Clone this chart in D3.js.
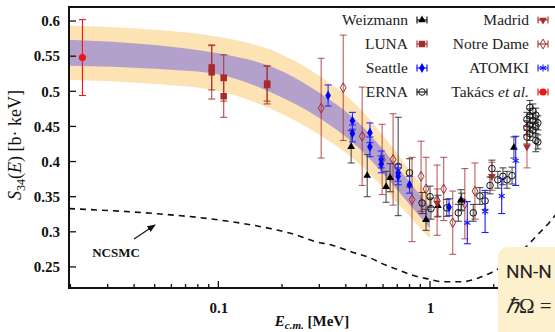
<!DOCTYPE html>
<html>
<head>
<meta charset="utf-8">
<script src="https://cdn.jsdelivr.net/npm/d3@7"></script>
<style>
    body { margin: 0; background: #fff; }
    svg { display: block; }
</style>
</head>
<body>
<svg id="chart" width="555" height="332"></svg>
<script>
// band (theory uncertainty), edges
const bandE       = [0.0197, 0.05, 0.1, 0.18, 0.3, 0.45, 0.6, 0.8, 1.0];
const bandOuterHi = [0.5935, 0.5875, 0.5775, 0.558, 0.522, 0.48, 0.437, 0.388, 0.35];
const bandInnerHi = [0.5735, 0.566, 0.554, 0.5345, 0.498, 0.458, 0.417, 0.371, 0.335];
const bandInnerLo = [0.5365, 0.532, 0.524, 0.4975, 0.462, 0.422, 0.383, 0.339, 0.305];
const bandOuterLo = [0.5165, 0.5105, 0.5005, 0.474, 0.438, 0.40, 0.363, 0.322, 0.29];

// NCSMC curve
const ncsmcE = [0.0197, 0.05, 0.1, 0.186, 0.231, 0.287, 0.345, 0.429, 0.51, 0.613, 0.707, 0.85, 0.978, 1.14, 1.42, 1.68, 1.92, 2.4, 2.96, 3.3, 3.68, 4.5];
const ncsmcS = [0.333, 0.326, 0.317, 0.303, 0.296, 0.286, 0.281, 0.271, 0.264, 0.253, 0.246, 0.237, 0.233, 0.229, 0.229, 0.234, 0.241, 0.259, 0.284, 0.299, 0.314, 0.35];

// experiments: [E (MeV), S (b keV), error]
const weizmann = [[0.424, 0.421, 0.023], [0.505, 0.380, 0.030], [0.62, 0.364, 0.022], [0.648, 0.377, 0.020],
    [0.957, 0.317, 0.015], [1.09, 0.337, 0.015], [1.40, 0.345, 0.015], [2.49, 0.420, 0.015]];
const luna = [[0.093, 0.534, 0.032], [0.093, 0.527, 0.038], [0.106, 0.519, 0.033], [0.106, 0.493, 0.030],
    [0.170, 0.509, 0.027], [0.170, 0.511, 0.025]];
const seattle = [[0.33, 0.494, 0.015], [0.43, 0.458, 0.012], [0.43, 0.440, 0.012], [0.52, 0.441, 0.014],
    [0.52, 0.421, 0.014], [0.588, 0.403, 0.012], [0.588, 0.396, 0.012], [0.707, 0.384, 0.012],
    [0.707, 0.379, 0.012], [0.80, 0.367, 0.012], [1.23, 0.335, 0.012]];
const erna = [[0.707, 0.393, 0.070], [0.80, 0.384, 0.020], [0.917, 0.341, 0.015], [1.0, 0.350, 0.015],
    [1.01, 0.333, 0.015], [1.20, 0.334, 0.012], [1.36, 0.327, 0.012], [1.41, 0.343, 0.012],
    [1.60, 0.327, 0.012], [1.72, 0.351, 0.012], [1.82, 0.344, 0.012], [1.92, 0.366, 0.012],
    [1.96, 0.390, 0.012], [2.09, 0.374, 0.012], [2.21, 0.379, 0.012], [2.31, 0.374, 0.012],
    [2.44, 0.380, 0.012], [2.87, 0.460, 0.010], [2.87, 0.448, 0.010], [2.87, 0.435, 0.010],
    [2.96, 0.477, 0.010], [2.96, 0.465, 0.010], [2.96, 0.452, 0.010], [2.96, 0.440, 0.010],
    [3.06, 0.472, 0.010], [3.06, 0.458, 0.010], [3.06, 0.445, 0.010], [3.16, 0.466, 0.010],
    [3.16, 0.450, 0.010], [3.16, 0.430, 0.016], [3.23, 0.455, 0.010], [3.23, 0.428, 0.010]];
const madrid = [[1.08, 0.341, 0.020], [1.96, 0.379, 0.020], [2.87, 0.421, 0.030]];
const notreDame = [[0.306, 0.476, 0.071], [0.389, 0.505, 0.075], [0.478, 0.436, 0.070], [0.594, 0.403, 0.050],
    [0.669, 0.403, 0.065], [0.822, 0.346, 0.060], [0.907, 0.379, 0.050], [0.957, 0.361, 0.045],
    [1.08, 0.345, 0.050], [1.16, 0.361, 0.045], [1.28, 0.313, 0.045], [1.46, 0.340, 0.050],
    [1.63, 0.358, 0.040]];
const atomki = [[1.50, 0.313, 0.030], [1.82, 0.329, 0.030], [2.18, 0.351, 0.025], [2.54, 0.401, 0.035]];
const takacs = [[0.0228, 0.548, 0.054]];

const xTickValues = [0.1, 1];
const yTickValues = [0.25, 0.3, 0.35, 0.4, 0.45, 0.5, 0.55, 0.6];

const darkRed = '#a82a2a';
const serif = '"Liberation Serif", "Times New Roman", serif';

const margin = { top: 7, left: 69, bottom: 288, right: 578 };

const svg = d3.select('#chart');
svg.append('rect').attr('width', 555).attr('height', 332).attr('fill', '#fff');

const x = d3.scaleLog().domain([0.0197, 5]).range([margin.left, margin.right]);
const y = d3.scaleLinear().domain([0.22, 0.62]).range([margin.bottom, margin.top]);

const defs = svg.append('defs');
defs.append('clipPath').attr('id', 'clip')
    .append('rect')
    .attr('x', margin.left).attr('y', margin.top)
    .attr('width', margin.right - margin.left).attr('height', margin.bottom - margin.top);

const gPlot = svg.append('g').attr('clip-path', 'url(#clip)');

// bands
const bandIdx = d3.range(bandE.length);
const outerArea = d3.area()
    .x(i => x(bandE[i]))
    .y0(i => y(bandOuterLo[i]))
    .y1(i => y(bandOuterHi[i]))
    .curve(d3.curveMonotoneX);
const innerArea = d3.area()
    .x(i => x(bandE[i]))
    .y0(i => y(bandInnerLo[i]))
    .y1(i => y(bandInnerHi[i]))
    .curve(d3.curveMonotoneX);

gPlot.append('path').datum(bandIdx).attr('d', outerArea).attr('fill', '#fde3b3');
gPlot.append('path').datum(bandIdx).attr('d', innerArea).attr('fill', '#b3a0cb');

// NCSMC dashed line
gPlot.append('path').datum(d3.range(ncsmcE.length))
    .attr('d', d3.line().x(i => x(ncsmcE[i])).y(i => y(ncsmcS[i])).curve(d3.curveMonotoneX))
    .attr('fill', 'none')
    .attr('stroke', '#111')
    .attr('stroke-width', 1.6)
    .attr('stroke-dasharray', '6,5');

// marker shapes
const symTri = d3.symbol().type(d3.symbolTriangle).size(26)();
const symSq = d3.symbol().type(d3.symbolSquare).size(42)();
const symDia = d3.symbol().type(d3.symbolDiamond).size(28)();
const symDot = d3.symbol().type(d3.symbolCircle).size(40)();

function drawMarker(g, kind, color) {
    if (kind === 'triUp') {
        g.append('path').attr('d', symTri).attr('fill', color);
    } else if (kind === 'triDown') {
        g.append('path').attr('d', symTri).attr('transform', 'rotate(180)').attr('fill', color);
    } else if (kind === 'square') {
        g.append('path').attr('d', symSq).attr('fill', color);
    } else if (kind === 'diamond') {
        g.append('path').attr('d', symDia).attr('fill', color);
    } else if (kind === 'openDiamond') {
        g.append('path').attr('d', symDia).attr('fill', 'none').attr('stroke', color).attr('stroke-width', 1);
    } else if (kind === 'openCircle') {
        g.append('circle').attr('r', 3.3).attr('fill', 'none').attr('stroke', color).attr('stroke-width', 1);
    } else if (kind === 'dot') {
        g.append('path').attr('d', symDot).attr('fill', color);
    } else if (kind === 'asterisk') {
        [90, 30, 150].forEach(a => {
            const r = 3.5, t = a * Math.PI / 180;
            g.append('line')
                .attr('x1', -r * Math.cos(t)).attr('y1', -r * Math.sin(t))
                .attr('x2', r * Math.cos(t)).attr('y2', r * Math.sin(t))
                .attr('stroke', color).attr('stroke-width', 1.2);
        });
    }
}

function drawSeries(data, kind, color, barColor, barOpacity) {
    const gs = gPlot.append('g');
    data.forEach(d => {
        const cx = x(d[0]);
        const yTop = y(d[1] + d[2]);
        const yBot = y(d[1] - d[2]);
        const gb = gs.append('g').attr('stroke', barColor).attr('stroke-opacity', barOpacity).attr('stroke-width', 1.1);
        gb.append('line').attr('x1', cx).attr('x2', cx).attr('y1', yTop).attr('y2', yBot);
        gb.append('line').attr('x1', cx - 3.5).attr('x2', cx + 3.5).attr('y1', yTop).attr('y2', yTop);
        gb.append('line').attr('x1', cx - 3.5).attr('x2', cx + 3.5).attr('y1', yBot).attr('y2', yBot);
        const gm = gs.append('g').attr('transform', `translate(${cx},${y(d[1])})`);
        drawMarker(gm, kind, color);
    });
}

drawSeries(notreDame, 'openDiamond', darkRed, darkRed, 0.75);
drawSeries(erna, 'openCircle', '#111', '#222', 0.8);
drawSeries(weizmann, 'triUp', '#000', '#333', 0.85);
drawSeries(madrid, 'triDown', darkRed, darkRed, 0.7);
drawSeries(seattle, 'diamond', '#0000ff', '#2a2aff', 1);
drawSeries(atomki, 'asterisk', '#1a1aff', '#1a1aff', 1);
drawSeries(luna, 'square', darkRed, darkRed, 0.85);
drawSeries(takacs, 'dot', '#f01414', '#f01414', 1);

// NCSMC annotation
svg.append('text')
    .attr('x', 116).attr('y', 257)
    .attr('text-anchor', 'middle')
    .attr('font-family', serif).attr('font-weight', 'bold').attr('font-size', 13)
    .attr('fill', '#111')
    .text('NCSMC');
defs.append('marker')
    .attr('id', 'arrow').attr('viewBox', '0 0 10 10')
    .attr('refX', 9).attr('refY', 5)
    .attr('markerWidth', 7).attr('markerHeight', 7)
    .attr('orient', 'auto')
    .append('path').attr('d', 'M0,1 L10,5 L0,9 z').attr('fill', '#111');
svg.append('line')
    .attr('x1', 134).attr('y1', 239).attr('x2', 155).attr('y2', 225)
    .attr('stroke', '#111').attr('stroke-width', 1.2)
    .attr('marker-end', 'url(#arrow)');

// axes
const xAxis = d3.axisBottom(x)
    .tickValues(xTickValues)
    .tickFormat(d3.format('~g'))
    .tickSize(0)
    .tickPadding(14);
const gx = svg.append('g').attr('transform', `translate(0,${margin.bottom})`).call(xAxis);
gx.select('.domain').remove();
gx.selectAll('text')
    .attr('font-family', serif).attr('font-weight', 'bold').attr('font-size', 15).attr('fill', '#111');

// x minor/major ticks pointing inward
const minorX = [];
[0.01, 0.1, 1].forEach(dec => d3.range(1, 10).forEach(k => minorX.push(dec * k)));
svg.append('g').selectAll('line')
    .data(minorX.filter(v => v > 0.0197 && v < 5))
    .join('line')
    .attr('x1', d => x(d)).attr('x2', d => x(d))
    .attr('y1', margin.bottom)
    .attr('y2', d => xTickValues.includes(d) ? margin.bottom - 7 : margin.bottom - 4)
    .attr('stroke', '#111').attr('stroke-width', 1.3);

const yAxis = d3.axisLeft(y)
    .tickValues(yTickValues)
    .tickFormat(d3.format('~g'))
    .tickSize(0)
    .tickPadding(9);
const gy = svg.append('g').attr('transform', `translate(${margin.left},0)`).call(yAxis);
gy.select('.domain').remove();
gy.selectAll('text')
    .attr('font-family', serif).attr('font-weight', 'bold').attr('font-size', 15).attr('fill', '#111');
svg.append('g').selectAll('line')
    .data(yTickValues)
    .join('line')
    .attr('x1', margin.left).attr('x2', margin.left + 7)
    .attr('y1', d => y(d)).attr('y2', d => y(d))
    .attr('stroke', '#111').attr('stroke-width', 1.3);

// frame
svg.append('rect')
    .attr('x', margin.left).attr('y', margin.top)
    .attr('width', margin.right - margin.left).attr('height', margin.bottom - margin.top)
    .attr('fill', 'none').attr('stroke', '#111').attr('stroke-width', 2);

// axis titles
const xLabel = svg.append('text')
    .attr('x', 312).attr('y', 326)
    .attr('text-anchor', 'middle')
    .attr('font-family', serif).attr('font-weight', 'bold').attr('font-size', 15).attr('fill', '#111');
xLabel.append('tspan').attr('font-style', 'italic').text('E');
xLabel.append('tspan').attr('font-style', 'italic').attr('font-size', 11).attr('dy', 3).text('c.m.');
xLabel.append('tspan').attr('dy', -3).text(' [MeV]');

const yLabel = svg.append('text')
    .attr('transform', 'translate(21,145) rotate(-90)')
    .attr('text-anchor', 'middle')
    .attr('font-family', serif).attr('font-size', 18).attr('fill', '#111');
yLabel.append('tspan').attr('font-style', 'italic').text('S');
yLabel.append('tspan').attr('font-size', 12).attr('dy', 4).text('34');
yLabel.append('tspan').attr('dy', -4).text('(');
yLabel.append('tspan').attr('font-style', 'italic').text('E');
yLabel.append('tspan').text(') [b· keV]');

// legend
const legendItems = [
    { label: ['Weizmann'], kind: 'triUp', color: '#000', col: 0, row: 0 },
    { label: ['LUNA'], kind: 'square', color: darkRed, col: 0, row: 1 },
    { label: ['Seattle'], kind: 'diamond', color: '#0000ff', col: 0, row: 2 },
    { label: ['ERNA'], kind: 'openCircle', color: '#111', col: 0, row: 3 },
    { label: ['Madrid'], kind: 'triDown', color: darkRed, col: 1, row: 0 },
    { label: ['Notre Dame'], kind: 'openDiamond', color: darkRed, col: 1, row: 1 },
    { label: ['ATOMKI'], kind: 'asterisk', color: '#1a1aff', col: 1, row: 2 },
    { label: ['Takács ', 'et al.'], kind: 'dot', color: '#f01414', col: 1, row: 3 }
];
const legendColX = [408, 529];
const legendRowY = [20, 44, 68, 92];

legendItems.forEach(item => {
    const lx = legendColX[item.col];
    const ly = legendRowY[item.row];
    const t = svg.append('text')
        .attr('x', lx).attr('y', ly + 5)
        .attr('text-anchor', 'end')
        .attr('font-family', serif).attr('font-size', 15.5).attr('fill', '#222');
    t.append('tspan').text(item.label[0]);
    if (item.label[1]) t.append('tspan').attr('font-style', 'italic').text(item.label[1]);

    const g = svg.append('g').attr('transform', `translate(${lx + 14},${ly})`);
    g.append('line').attr('x1', -5).attr('x2', 5).attr('y1', 0).attr('y2', 0)
        .attr('stroke', item.color).attr('stroke-width', 1.1);
    [-5, 5].forEach(cx => g.append('line')
        .attr('x1', cx).attr('x2', cx).attr('y1', -3.5).attr('y2', 3.5)
        .attr('stroke', item.color).attr('stroke-width', 1.1));
    drawMarker(g, item.kind, item.color);
});

// parameter box (bottom right, cut by the page edge as in the figure)
svg.append('rect')
    .attr('x', 498).attr('y', 247)
    .attr('width', 120).attr('height', 120)
    .attr('rx', 10).attr('ry', 10)
    .attr('fill', '#fdf0cd');
svg.append('text')
    .attr('x', 506).attr('y', 278)
    .attr('font-family', 'Roboto, "DejaVu Sans", sans-serif').attr('font-size', 19).attr('fill', '#222')
    .text('NN-N');
const hw = svg.append('text')
    .attr('x', 506).attr('y', 313)
    .attr('font-family', serif).attr('font-size', 21).attr('fill', '#222');
hw.append('tspan').attr('font-style', 'italic').text('ℏ');
hw.append('tspan').text('Ω =');
</script>
</body>
</html>
